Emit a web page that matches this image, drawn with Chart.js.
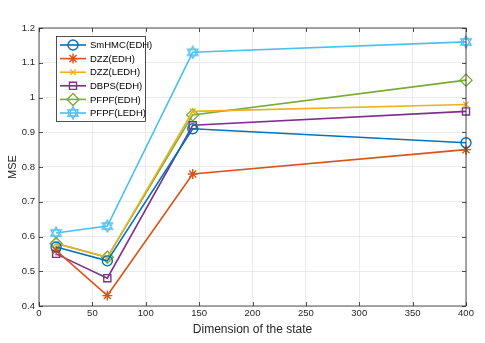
<!DOCTYPE html>
<html>
<head>
<meta charset="utf-8">
<script src="https://cdn.jsdelivr.net/npm/chart.js@4"></script>
<style>
  html, body { margin: 0; padding: 0; background: #fff; }
  #wrap { width: 485px; height: 343px; }
</style>
</head>
<body>
<div id="wrap"><canvas id="mse"></canvas></div>
<script>
// data
const dims = [16, 64, 144, 400];
const smhmcEdh = [0.57, 0.53, 0.91, 0.87];
const dzzEdh = [0.56, 0.43, 0.78, 0.85];
const dzzLedh = [0.58, 0.54, 0.96, 0.98];
const dbpsEdh = [0.55, 0.48, 0.92, 0.96];
const pfpfEdh = [0.58, 0.54, 0.95, 1.05];
const pfpfLedh = [0.61, 0.63, 1.13, 1.16];
const seriesNames = ['SmHMC(EDH)', 'DZZ(EDH)', 'DZZ(LEDH)', 'DBPS(EDH)', 'PFPF(EDH)', 'PFPF(LEDH)'];
const colors = ['#0072BD', '#D95319', '#EDB120', '#7E2F8E', '#77AC30', '#4DBEEE'];
const FONT = '"Liberation Sans", Arial, sans-serif';

// hexagram marker (matlab 'h')
function hexagram(color) {
    const c = document.createElement('canvas');
    c.width = 14; c.height = 14;
    const g = c.getContext('2d');
    g.strokeStyle = color;
    g.lineWidth = 1.3;
    const r = 6;
    for (let k = 0; k < 2; k++) {
        g.beginPath();
        for (let i = 0; i < 3; i++) {
            const a = -Math.PI / 2 + k * Math.PI / 3 + i * 2 * Math.PI / 3;
            const px = 7 + r * Math.cos(a), py = 7 + r * Math.sin(a);
            if (i === 0) g.moveTo(px, py); else g.lineTo(px, py);
        }
        g.closePath();
        g.stroke();
    }
    return c;
}

const styles = ['circle', 'star', 'crossRot', 'rect', 'rectRot', hexagram(colors[5])];
const radii = [5, 5, 4, 5, 6, 6];
const allValues = [smhmcEdh, dzzEdh, dzzLedh, dbpsEdh, pfpfEdh, pfpfLedh];

const datasets = allValues.map((vals, i) => ({
    label: seriesNames[i],
    data: vals.map((v, j) => ({ x: dims[j], y: v })),
    borderColor: colors[i],
    backgroundColor: 'rgba(0,0,0,0)',
    borderWidth: 1.6,
    pointStyle: styles[i],
    pointRadius: radii[i],
    pointBorderWidth: 1.4,
    pointBorderColor: colors[i],
    pointBackgroundColor: 'rgba(0,0,0,0)',
    clip: false,
    tension: 0
}));

// axes box with inward ticks, plus the legend drawn inside the plot
const matlabBox = {
    id: 'matlabBox',
    afterDraw(chart) {
        const { ctx, chartArea: a, scales } = chart;
        ctx.save();
        ctx.strokeStyle = '#262626';
        ctx.lineWidth = 0.8;
        ctx.strokeRect(a.left, a.top, a.right - a.left, a.bottom - a.top);
        ctx.beginPath();
        scales.x.ticks.forEach(t => {
            const px = Math.round(scales.x.getPixelForValue(t.value)) + 0.5;
            ctx.moveTo(px, a.bottom); ctx.lineTo(px, a.bottom - 4);
            ctx.moveTo(px, a.top); ctx.lineTo(px, a.top + 4);
        });
        scales.y.ticks.forEach(t => {
            const py = Math.round(scales.y.getPixelForValue(t.value)) + 0.5;
            ctx.moveTo(a.left, py); ctx.lineTo(a.left + 4, py);
            ctx.moveTo(a.right, py); ctx.lineTo(a.right - 4, py);
        });
        ctx.stroke();

        // legend
        const lx = a.left + 17, ly = a.top + 8, lw = 89, lh = 85;
        ctx.fillStyle = '#fff';
        ctx.fillRect(lx, ly, lw, lh);
        ctx.strokeStyle = '#262626';
        ctx.lineWidth = 0.8;
        ctx.strokeRect(lx + 0.5, ly + 0.5, lw, lh);
        ctx.font = '9.5px ' + FONT;
        ctx.textBaseline = 'middle';
        chart.data.datasets.forEach((ds, i) => {
            const y = ly + 9 + i * 13.6;
            ctx.strokeStyle = ds.borderColor;
            ctx.lineWidth = 1.6;
            ctx.beginPath();
            ctx.moveTo(lx + 4, y); ctx.lineTo(lx + 30, y);
            ctx.stroke();
            ctx.fillStyle = 'rgba(0,0,0,0)';
            ctx.lineWidth = ds.pointBorderWidth;
            Chart.helpers.drawPoint(ctx, {
                pointStyle: ds.pointStyle,
                radius: ds.pointRadius,
                borderWidth: ds.pointBorderWidth,
                rotation: 0
            }, lx + 17, y);
            ctx.fillStyle = '#000';
            ctx.fillText(ds.label, lx + 34, y + 0.5);
        });
        ctx.restore();
    }
};

new Chart(document.getElementById('mse'), {
    type: 'line',
    data: { datasets },
    options: {
        responsive: true,
        maintainAspectRatio: false,
        animation: false,
        layout: { padding: { left: 6, top: 28, right: 19, bottom: 6 } },
        plugins: {
            legend: { display: false },
            tooltip: { enabled: false }
        },
        scales: {
            x: {
                type: 'linear',
                min: 0,
                max: 400,
                afterFit(s) { s.height = 31; },
                ticks: {
                    stepSize: 50,
                    color: '#262626',
                    font: { family: FONT, size: 9.5 },
                    padding: 2,
                    maxRotation: 0
                },
                grid: { color: '#e6e6e6', lineWidth: 0.8, drawTicks: false },
                border: { display: false },
                title: {
                    display: true,
                    text: 'Dimension of the state',
                    color: '#262626',
                    font: { family: FONT, size: 12 },
                    padding: { top: 2, bottom: 0 }
                }
            },
            y: {
                min: 0.4,
                max: 1.2,
                afterFit(s) { s.width = 33; },
                ticks: {
                    stepSize: 0.1,
                    color: '#262626',
                    font: { family: FONT, size: 9.5 },
                    padding: 4,
                    callback: v => String(Math.round(v * 10) / 10)
                },
                grid: { color: '#e6e6e6', lineWidth: 0.8, drawTicks: false },
                border: { display: false },
                title: {
                    display: true,
                    text: 'MSE',
                    color: '#262626',
                    font: { family: FONT, size: 11 },
                    padding: { top: 0, bottom: 0 }
                }
            }
        }
    },
    plugins: [matlabBox]
});
</script>
</body>
</html>
